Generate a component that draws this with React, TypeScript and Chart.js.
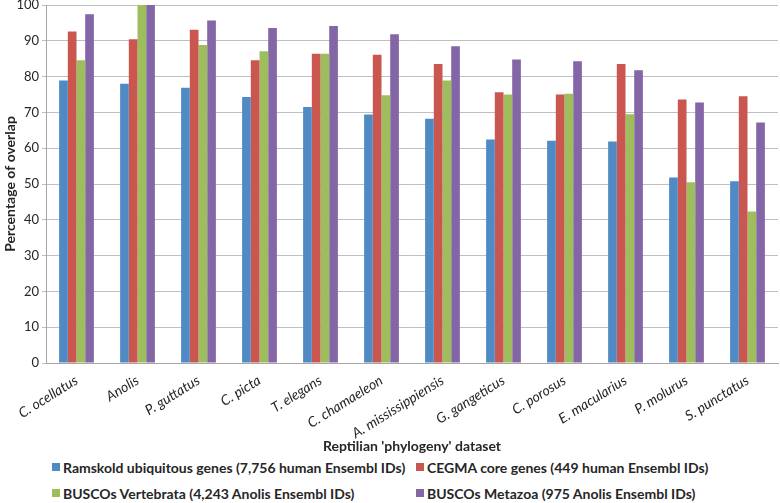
import React, { useEffect, useRef } from "react";
import { Chart, registerables } from "chart.js";

Chart.register(...registerables);

const categories = [
  "C. ocellatus",
  "Anolis",
  "P. guttatus",
  "C. picta",
  "T. elegans",
  "C. chamaeleon",
  "A. mississippiensis",
  "G. gangeticus",
  "C. porosus",
  "E. macularius",
  "P. molurus",
  "S. punctatus",
];

const ramskold = [78.9, 78.0, 76.9, 74.3, 71.5, 69.4, 68.2, 62.4, 62.1, 61.9, 51.8, 50.8];
const cegma = [92.6, 90.4, 93.1, 84.6, 86.4, 86.1, 83.5, 75.6, 75.0, 83.5, 73.6, 74.5];
const buscoVert = [84.6, 100, 88.8, 87.1, 86.4, 74.8, 78.9, 75.0, 75.2, 69.5, 50.5, 42.3];
const buscoMeta = [97.4, 100, 95.7, 93.6, 94.1, 91.8, 88.5, 84.8, 84.3, 81.8, 72.8, 67.2];

const seriesLabels = [
  "Ramskold ubiquitous genes (7,756 human Ensembl IDs)",
  "CEGMA core genes (449 human Ensembl IDs)",
  "BUSCOs Vertebrata (4,243 Anolis Ensembl IDs)",
  "BUSCOs Metazoa (975 Anolis Ensembl IDs)",
];
const seriesColors = ["#508AC4", "#C9574F", "#9EBE5E", "#8466A6"];
const yTicks = [0, 10, 20, 30, 40, 50, 60, 70, 80, 90, 100];

const FONT = "Lato, 'Open Sans', sans-serif";

export default function App() {
  const ref = useRef<HTMLCanvasElement | null>(null);

  useEffect(() => {
    if (!ref.current) return;
    const data = [ramskold, cegma, buscoVert, buscoMeta];
    const chart = new Chart(ref.current, {
      type: "bar",
      data: {
        labels: categories,
        datasets: data.map((d, i) => ({
          label: seriesLabels[i],
          data: d,
          backgroundColor: seriesColors[i],
          borderWidth: 0,
          categoryPercentage: 0.57,
          barPercentage: 1.0,
        })),
      },
      options: {
        animation: false,
        responsive: false,
        maintainAspectRatio: false,
        layout: { padding: { left: 0, right: 2, top: 0, bottom: 0 } },
        plugins: {
          legend: { display: false },
          tooltip: { enabled: false },
        },
        scales: {
          x: {
            grid: { display: false, drawTicks: false },
            border: { display: true, color: "#a6a6a6", width: 1 },
            ticks: {
              color: "#262626",
              font: { family: FONT, size: 14, style: "italic" },
              minRotation: 32,
              maxRotation: 32,
              padding: 9,
              autoSkip: false,
            },
            title: {
              display: true,
              text: "Reptilian 'phylogeny' dataset",
              color: "#262626",
              font: { family: FONT, size: 14, weight: "bold" },
              padding: { top: 0, bottom: 0 },
            },
            afterFit: (scale: any) => {
              scale.height = 92;
            },
          },
          y: {
            min: 0,
            max: 100,
            afterBuildTicks: (scale: any) => {
              scale.ticks = yTicks.map((v) => ({ value: v }));
            },
            grid: { color: "#bfbfbf", lineWidth: 1, tickLength: 4 },
            border: { display: true, color: "#a6a6a6", width: 1 },
            ticks: {
              color: "#262626",
              font: { family: FONT, size: 13 },
              padding: 3,
            },
            title: {
              display: true,
              text: "Percentage of overlap",
              color: "#262626",
              font: { family: FONT, size: 14, weight: "bold" },
              padding: { top: 2, bottom: 2 },
            },
            afterFit: (scale: any) => {
              scale.width = 46;
              scale.paddingTop = 5;
            },
          },
        },
      },
    });
    return () => chart.destroy();
  }, []);

  const legendPos = [
    { left: 52, top: 467 },
    { left: 416, top: 467 },
    { left: 52, top: 493 },
    { left: 416, top: 493 },
  ];

  return (
    <div style={{ position: "absolute", left: 0, top: 0, width: 780, height: 503, background: "#fff", overflow: "hidden" }}>
      <canvas ref={ref} width={780} height={455} style={{ position: "absolute", left: 0, top: 0 }} />
      {seriesLabels.map((lab, i) => (
        <div
          key={lab}
          style={{
            position: "absolute",
            left: legendPos[i].left,
            top: legendPos[i].top - 10,
            height: 20,
            display: "flex",
            alignItems: "center",
            whiteSpace: "nowrap",
            fontFamily: FONT,
            fontWeight: 700,
            fontSize: 14,
            color: "#262626",
          }}
        >
          <span style={{ display: "inline-block", width: 8, height: 8, background: seriesColors[i], marginRight: 3 }} />
          <span>{lab}</span>
        </div>
      ))}
    </div>
  );
}
